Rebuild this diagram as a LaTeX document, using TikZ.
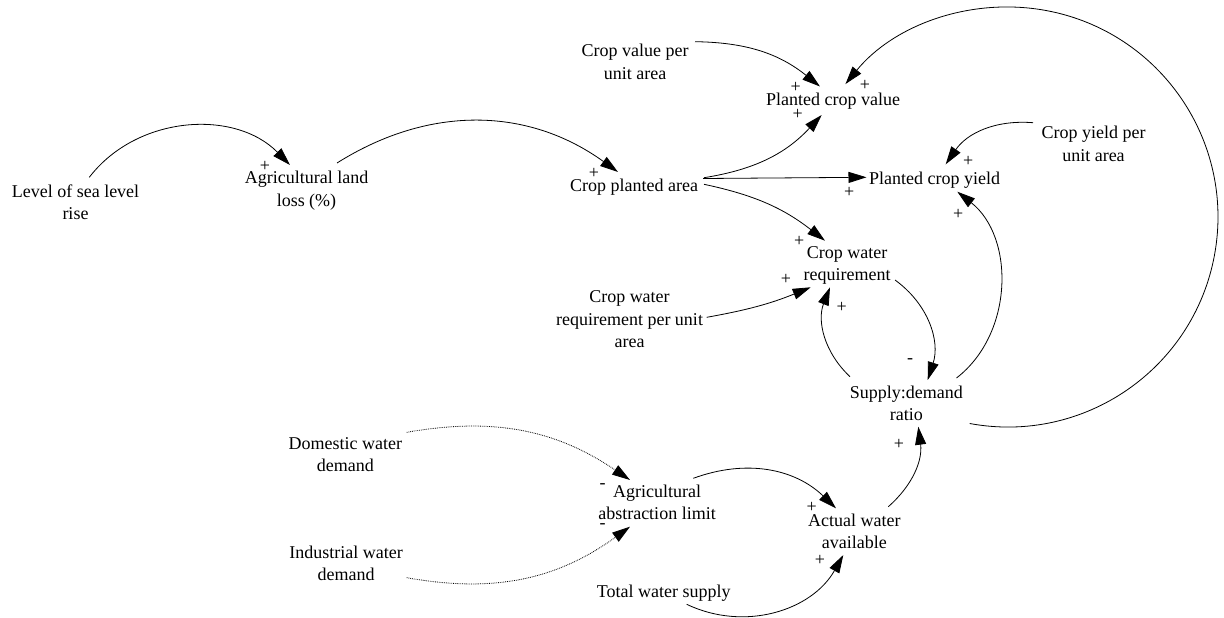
\documentclass[tikz,border=0pt]{standalone}
\usepackage{fontspec}
\setmainfont{Liberation Serif}
\usetikzlibrary{arrows.meta,calc}
\begin{document}
\begin{tikzpicture}[x=1pt,y=-1pt,
  var/.style={inner sep=0pt, align=center, font=\fontsize{18}{22.5}\selectfont},
  link/.style={line width=0.8pt, -{Triangle[length=18pt,width=11pt]}},
  infl/.style={link, densely dotted, line width=0.8pt},
  pol/.style={inner sep=0pt, font=\fontsize{18}{18}\selectfont},
]
\useasboundingbox (0,0) rectangle (1224,618);

% variables
\node[var] (lsl)    at (75.5,202)   {Level of sea level\\rise};
\node[var] (agl)    at (306.5,190.9){Agricultural land\\loss (\%)};
\node[var,anchor=base] (cpa) at (634,191) {Crop planted area};
\node[var] (cvpa)   at (635,62)     {Crop value per\\unit area};
\node[var,anchor=base] (pcv) at (833,105.5) {Planted crop value};
\node[var,anchor=base] (pcy) at (934.5,184) {Planted crop yield};
\node[var] (cypua)  at (1093.5,144) {Crop yield per\\unit area};
\node[var] (cwr)    at (847,265.6)  {Crop water\\requirement};
\node[var] (cwrpua) at (629.5,319.2){Crop water\\requirement per unit\\area};
\node[var] (sdr)    at (906.4,403.2){Supply:demand\\ratio};
\node[var] (dwd)    at (345.3,454.5){Domestic water\\demand};
\node[var] (aal)    at (657,502.3)  {Agricultural\\abstraction limit};
\node[var] (iwd)    at (346,563.2)  {Industrial water\\demand};
\node[var] (awa)    at (854.3,531.2){Actual water\\available};
\node[var,anchor=base] (tws) at (663.7,597.7) {Total water supply};

% causal links
\draw[link] ($(lsl)+(13.8,-24.7)$) to[bend left=49] ($(agl)+(-16.5,-25.9)$);
\draw[link] ($(agl)+(30.5,-27.9)$) to[bend left=34] ($(cpa.base)+(-16,-19)$);
\draw[link] ($(cpa.base)+(70,-13.3)$) to[bend right=19] ($(pcv.base)+(-11.3,9.5)$);
\draw[link] ($(cvpa)+(60,-20.3)$) to[bend left=19] ($(pcv.base)+(-13,-19)$);
\draw[link] ($(cpa.base)+(69,-12.5)$) -- ($(pcy.base)+(-68,-6.7)$);
\draw[link] ($(cypua)+(-60.5,-21.3)$) to[bend right=30] ($(pcy.base)+(11.2,-19.7)$);
\draw[link] ($(sdr)+(50.1,-25.2)$) to[bend right=52] ($(pcy.base)+(22.8,7.7)$);
\draw[link] ($(sdr)+(63.3,20.3)$) arc[start angle=100.5, end angle=-140.7, radius=210];
\draw[link] ($(cpa.base)+(70,-6.7)$) to[bend left=13] ($(cwr)+(-22,-24.9)$);
\draw[link] ($(cwrpua)+(77.2,-1.9)$) to[bend right=6] ($(cwr)+(-36.3,21.7)$);
\draw[link] ($(cwr)+(48,14.4)$) to[bend left=36] ($(sdr)+(21.3,-23.2)$);
\draw[link] ($(sdr)+(-56.4,-26.5)$) to[bend left=34] ($(cwr)+(-17,21.7)$);
\draw[link] ($(awa)+(34,-24.5)$) to[bend right=28] ($(sdr)+(11.9,23.5)$);
\draw[infl] ($(dwd)+(61.4,-22.2)$) to[bend left=22] ($(aal)+(-27,-22.3)$);
\draw[infl] ($(iwd)+(60.7,14.5)$) to[bend right=23] ($(aal)+(-27,24.4)$);
\draw[link] ($(aal)+(36.3,-24)$) to[bend left=32] ($(awa)+(-18.3,-22.9)$);
\draw[link] ($(tws.base)+(23,6.6)$) to[bend right=43] ($(awa)+(-11,23.8)$);

% polarities
\node[pol] (p1)  at (265,166.7) {+};
\node[pol] (p2)  at (594,173.3) {+};
\node[pol] (p3)  at (795.7,87.7) {+};
\node[pol] (p4)  at (797.7,114.3) {+};
\node[pol] (p5)  at (865,85) {+};
\node[pol] (p6)  at (968.3,161.7) {+};
\node[pol] (p7)  at (849.3,192.3) {+};
\node[pol] (p8)  at (958.3,214.3) {+};
\node[pol] (p9)  at (799.3,241) {+};
\node[pol] (p10) at (786,279.3) {+};
\node[pol] (p11) at (841.7,307.3) {+};
\node[pol] (p12) at (910,361) {-};
\node[pol] (p13) at (899,444.3) {+};
\node[pol] (p14) at (602.7,486) {-};
\node[pol] (p15) at (602.7,526) {-};
\node[pol] (p16) at (811.7,507.3) {+};
\node[pol] (p17) at (820,560) {+};
\end{tikzpicture}
\end{document}
